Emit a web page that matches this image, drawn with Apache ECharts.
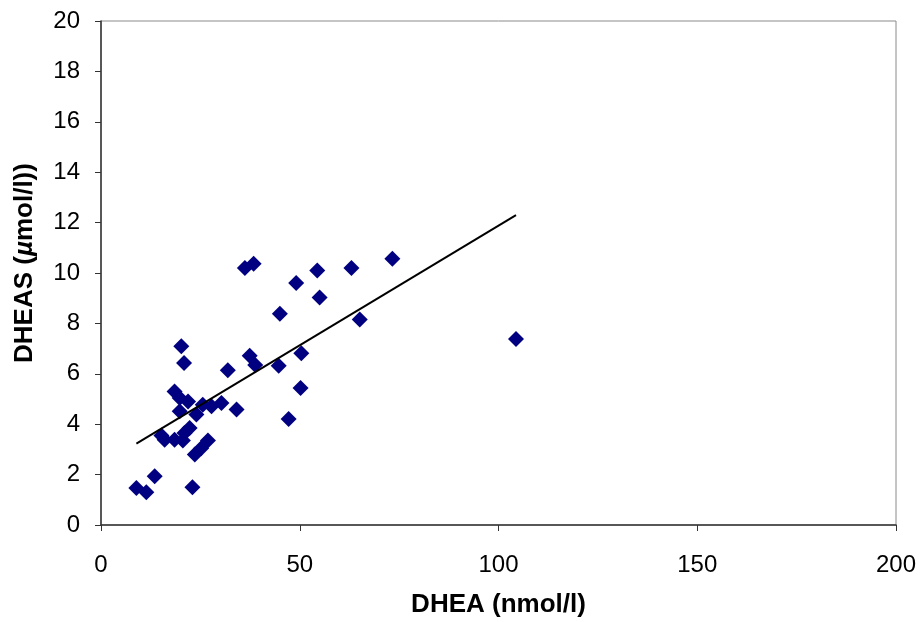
<!DOCTYPE html>
<html>
<head>
<meta charset="utf-8">
<script src="https://cdn.jsdelivr.net/npm/echarts@6/dist/echarts.min.js"></script>
<style>
html,body{margin:0;padding:0;background:#fff;}
#c{width:920px;height:622px;}
</style>
</head>
<body>
<div id="c"></div>
<script>
// DHEA (nmol/l) values
const dheaX = [8.9, 11.4, 13.5, 23.0, 15.2, 16.0, 18.5, 20.6, 21.0, 22.3, 23.6, 25.2, 26.9,
  18.5, 19.8, 19.8, 21.9, 24.0, 25.6, 27.8, 30.3, 34.1, 20.2, 20.9, 31.9, 37.4, 38.8,
  36.2, 38.4, 45.0, 44.7, 47.2, 49.1, 50.4, 50.2, 54.4, 55.0, 63.0, 73.3, 65.1, 104.4];
// DHEAS (µmol/l) values
const dheasY = [1.47, 1.30, 1.93, 1.50, 3.55, 3.38, 3.38, 3.35, 3.65, 3.85, 2.80, 3.05, 3.35,
  5.30, 5.04, 4.51, 4.90, 4.38, 4.77, 4.71, 4.84, 4.58, 7.09, 6.43, 6.14, 6.72, 6.35,
  10.20, 10.37, 8.38, 6.32, 4.21, 9.60, 6.82, 5.44, 10.10, 9.03, 10.20, 10.57, 8.15, 7.38];
// trend line endpoints
const trendX = [8.9, 104.4];
const trendY = [3.23, 12.30];
const xTicks = [0, 50, 100, 150, 200];
const yTicks = [0, 2, 4, 6, 8, 10, 12, 14, 16, 18, 20];

const chart = echarts.init(document.getElementById('c'));
const font = 'Liberation Sans, Arial, sans-serif';
chart.setOption({
  animation: false,
  backgroundColor: '#fff',
  grid: { left: 101, top: 21, right: 24, bottom: 97, show: true, borderColor: '#8a8a8a', borderWidth: 1,
          containLabel: false, outerBoundsMode: 'none' },
  xAxis: {
    type: 'value', min: xTicks[0], max: xTicks[xTicks.length - 1], interval: 50,
    name: 'DHEA (nmol/l)', nameLocation: 'middle', nameGap: 67,
    nameTextStyle: { fontFamily: font, fontSize: 26, fontWeight: 'bold', color: '#000' },
    axisLine: { show: true, lineStyle: { color: '#333', width: 1.5 } },
    axisTick: { show: true, length: 6, lineStyle: { color: '#333' } },
    axisLabel: { fontFamily: font, fontSize: 24, color: '#000', margin: 28 },
    splitLine: { show: false }
  },
  yAxis: {
    type: 'value', min: yTicks[0], max: yTicks[yTicks.length - 1], interval: 2,
    name: '{b|DHEAS (}{i|µ}{b|mol/l))}', nameLocation: 'middle', nameGap: 63, nameRotate: 90,
    nameTextStyle: {
      padding: [0, 0, 0, 20],
      rich: {
        b: { fontFamily: font, fontSize: 26, fontWeight: 'bold', color: '#000' },
        i: { fontFamily: font, fontSize: 26, fontWeight: 'bold', fontStyle: 'italic', color: '#000' }
      }
    },
    axisLine: { show: true, lineStyle: { color: '#333', width: 1.5 } },
    axisTick: { show: true, length: 6, lineStyle: { color: '#333' } },
    axisLabel: { fontFamily: font, fontSize: 24, color: '#000', margin: 21 },
    splitLine: { show: false }
  },
  series: [
    {
      type: 'scatter', symbol: 'diamond', symbolSize: 16,
      itemStyle: { color: '#000080', opacity: 1 },
      data: dheaX.map((x, i) => [x, dheasY[i]])
    },
    {
      type: 'line', symbol: 'none', silent: true,
      lineStyle: { color: '#000', width: 2 },
      data: trendX.map((x, i) => [x, trendY[i]])
    }
  ]
});
</script>
</body>
</html>
